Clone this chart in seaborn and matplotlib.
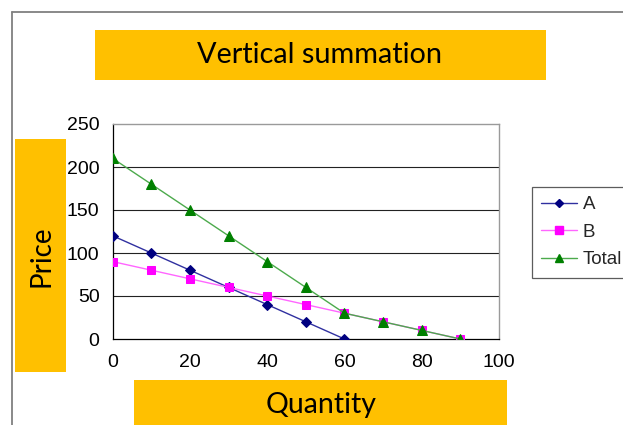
import matplotlib
matplotlib.use("Agg")
import matplotlib.pyplot as plt
from matplotlib.patches import Rectangle
from matplotlib.lines import Line2D
import seaborn as sns
import pandas as pd

# ---- data ----
qty_a = [0, 10, 20, 30, 40, 50, 60]
price_a = [120, 100, 80, 60, 40, 20, 0]
qty_b = [0, 10, 20, 30, 40, 50, 60, 70, 80, 90]
price_b = [90, 80, 70, 60, 50, 40, 30, 20, 10, 0]
qty_total = [0, 10, 20, 30, 40, 50, 60, 70, 80, 90]
price_total = [210, 180, 150, 120, 90, 60, 30, 20, 10, 0]
series_names = ["A", "B", "Total"]
x_ticks = [0, 20, 40, 60, 80, 100]
y_ticks = [0, 50, 100, 150, 200, 250]
title_text = "Vertical summation"
x_label = "Quantity"
y_label = "Price"

df = pd.concat([
    pd.DataFrame({"Quantity": qty_a, "Price": price_a, "Series": "A"}),
    pd.DataFrame({"Quantity": qty_b, "Price": price_b, "Series": "B"}),
    pd.DataFrame({"Quantity": qty_total, "Price": price_total, "Series": "Total"}),
], ignore_index=True)

sns.set_theme(style="white")
plt.rcParams["font.family"] = ["Liberation Sans", "DejaVu Sans"]

W, H = 623, 425
fig = plt.figure(figsize=(W / 100, H / 100), dpi=100)
fig.patch.set_facecolor("white")

def fx(px):
    return px / W

def fy(py):
    return 1 - py / H

ax = fig.add_axes([fx(112.7), fy(339), fx(499) - fx(112.7), fy(124) - fy(339)])

colors = {"A": "#000080", "B": "#FF00FF", "Total": "#008000"}
markers = {"A": "D", "B": "s", "Total": "^"}
msize = {"A": 5, "B": 6, "Total": 7.5}
lcol = {"A": "#3030a0", "B": "#ff66ff", "Total": "#4caa4c"}

for name in series_names:
    sub = df[df["Series"] == name]
    sns.lineplot(data=sub, x="Quantity", y="Price", ax=ax, color=lcol[name],
                 linewidth=1.0, marker=markers[name], markersize=msize[name],
                 markerfacecolor=colors[name], markeredgecolor=colors[name],
                 legend=False, zorder=3)

ax.set_xlim(0, 100)
ax.set_ylim(0, 250)
ax.set_xticks(x_ticks)
ax.set_yticks(y_ticks)
ax.set_xlabel("")
ax.set_ylabel("")
ax.tick_params(axis="both", direction="out", length=4.5, width=0.8, color="black",
               labelsize=14, labelcolor="black")
ax.tick_params(axis="x", pad=6)
ax.tick_params(axis="y", pad=5)
for yv in y_ticks[1:-1]:
    ax.axhline(yv, color="#222222", linewidth=0.8, zorder=1)
for side in ["top", "right"]:
    ax.spines[side].set_color("#9a9a9a")
    ax.spines[side].set_linewidth(1.0)
for side in ["left", "bottom"]:
    ax.spines[side].set_color("black")
    ax.spines[side].set_linewidth(0.9)

# outer frame lines
fig.add_artist(Line2D([fx(12), fx(12)], [fy(12), 0], transform=fig.transFigure,
                      color="#808080", linewidth=1.3))
fig.add_artist(Line2D([fx(12), 1], [fy(12), fy(12)], transform=fig.transFigure,
                      color="#808080", linewidth=1.3))

box_col = "#FFC000"
box_font = ["Lato", "DejaVu Sans"]

# title box
fig.add_artist(Rectangle((fx(95), fy(80)), fx(546) - fx(95), fy(30) - fy(80),
                         transform=fig.transFigure, facecolor=box_col, edgecolor="none"))
fig.text(fx(320), fy(55), title_text, ha="center", va="center", fontsize=20.8,
         family=box_font, color="black")

# price box
fig.add_artist(Rectangle((fx(15), fy(372)), fx(66) - fx(15), fy(139) - fy(372),
                         transform=fig.transFigure, facecolor=box_col, edgecolor="none"))
fig.text(fx(41), fy(256), y_label, ha="center", va="center", fontsize=20,
         rotation=90, family=box_font, color="black")

# quantity box
fig.add_artist(Rectangle((fx(134), 0), fx(507) - fx(134), fy(380),
                         transform=fig.transFigure, facecolor=box_col, edgecolor="none"))
fig.text(fx(321), fy(405), x_label, ha="center", va="center", fontsize=20.5,
         family=box_font, color="black")

# legend
handles = [Line2D([0], [0], color=lcol[n], linewidth=1.0, marker=markers[n],
                  markersize=msize[n] * 0.85, markerfacecolor=colors[n],
                  markeredgecolor=colors[n]) for n in series_names]
leg = fig.legend(handles, series_names, loc="upper left",
                 bbox_to_anchor=(fx(532), fy(187)), bbox_transform=fig.transFigure,
                 frameon=True, fancybox=False, fontsize=13.5, handlelength=1.9,
                 handletextpad=0.3, borderpad=0.5, labelspacing=0.55,
                 borderaxespad=0)
leg.get_frame().set_edgecolor("#333333")
leg.get_frame().set_linewidth(0.9)

fig.savefig("out.png", dpi=100, facecolor="white")
